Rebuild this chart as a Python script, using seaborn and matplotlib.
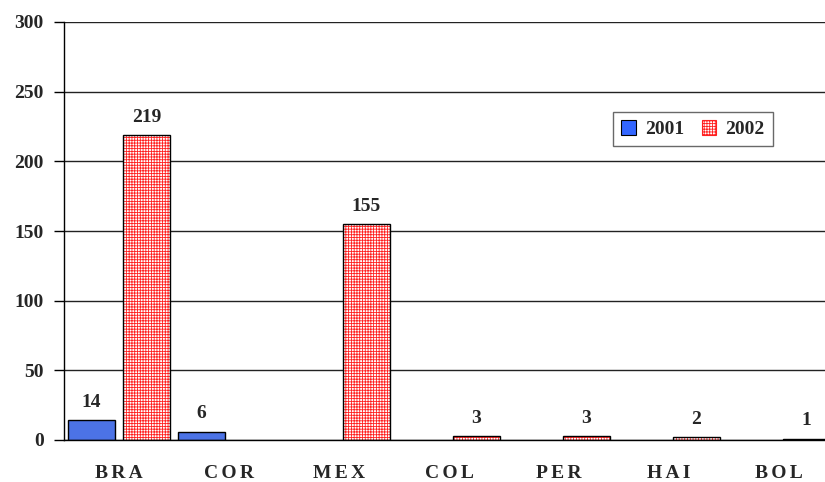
import numpy as np
import pandas as pd
import seaborn as sns
import matplotlib.pyplot as plt
from matplotlib.patches import Rectangle

countries = ["BRA", "COR", "MEX", "COL", "PER", "HAI", "BOL"]
years = ["2001", "2002"]
vals_2001 = [14, 6, 0, 0, 0, 0, 0]
vals_2002 = [219, 0, 155, 3, 3, 2, 1]

df = pd.DataFrame({
    "country": countries * 2,
    "year": ["2001"] * len(countries) + ["2002"] * len(countries),
    "value": vals_2001 + vals_2002,
})

sns.set_style("white")
plt.rcParams["font.family"] = ["Liberation Serif", "DejaVu Serif"]
plt.rcParams["font.weight"] = "bold"
plt.rcParams["hatch.linewidth"] = 0.6

FS = 14

fig = plt.figure(figsize=(8.25, 4.82), dpi=100)
ax = fig.add_axes([64 / 825, 42 / 482, 770 / 825, 418 / 482])

blue = "#3366FF"
red = "#FF2020"

sns.barplot(data=df, x="country", y="value", hue="year", order=countries,
            hue_order=years, palette=[blue, "white"], width=1.0, gap=0.16,
            edgecolor="black", linewidth=1.0, ax=ax, legend=False,
            errorbar=None)

for i, cont in enumerate(ax.containers):
    for p in cont:
        if p is None:
            continue
        h = p.get_height()
        if h == 0:
            p.set_visible(False)
            continue
        if i == 1:
            # 2002 bars: red grid hatch with a black outline
            p.set_hatch("++++++")
            p.set_edgecolor(red)
            p.set_linewidth(0)
            ax.add_patch(Rectangle((p.get_x(), p.get_y()), p.get_width(), h,
                                   fill=False, edgecolor="black", linewidth=1.0,
                                   zorder=p.get_zorder() + 0.1))
        ax.annotate(f"{h:g}", (p.get_x() + p.get_width() / 2, h),
                    xytext=(0, 9.5), textcoords="offset points",
                    ha="center", va="baseline", fontsize=FS, fontweight="bold")

ax.set_ylim(0, 300)
ax.set_xlim(-0.5, len(countries) - 0.5)
ax.set_yticks(range(0, 301, 50))
ax.set_yticklabels([str(v) for v in range(0, 301, 50)], fontsize=FS, fontweight="bold")
ax.yaxis.grid(True, color="#222222", linewidth=1.0)
ax.set_axisbelow(True)

# category labels in the middle, tick marks on the boundaries
ax.set_xticks(range(len(countries)))
ax.set_xticklabels(["\u2006".join(c) for c in countries], fontsize=FS, fontweight="bold")
ax.tick_params(axis="x", length=0, pad=18)
ax.set_xticks(np.arange(-0.5, len(countries), 1.0), minor=True)
ax.tick_params(axis="x", which="minor", length=6, width=1, color="black", direction="out")
ax.tick_params(axis="y", length=7, width=1, color="black", direction="out", left=True, pad=7.5)

ax.set_xlabel("")
ax.set_ylabel("")
for s in ["top", "right"]:
    ax.spines[s].set_visible(False)
for s in ["left", "bottom"]:
    ax.spines[s].set_color("black")
    ax.spines[s].set_linewidth(1.0)

# legend
h1 = Rectangle((0, 0), 1, 1, facecolor=blue, edgecolor="black", linewidth=0.8)
h2 = Rectangle((0, 0), 1, 1, facecolor="white", edgecolor=red, hatch="++++++", linewidth=0.8)
leg = ax.legend([h1, h2], years, loc="upper left", bbox_to_anchor=(549 / 770, 328 / 418),
                borderaxespad=0, ncol=2, frameon=True, fancybox=False, edgecolor="#444444",
                prop={"size": FS, "weight": "bold"}, handlelength=0.77, handleheight=0.77,
                handletextpad=0.45, columnspacing=0.9, borderpad=0.42)
leg.get_frame().set_linewidth(1.0)

fig.savefig("out.png", dpi=100)
